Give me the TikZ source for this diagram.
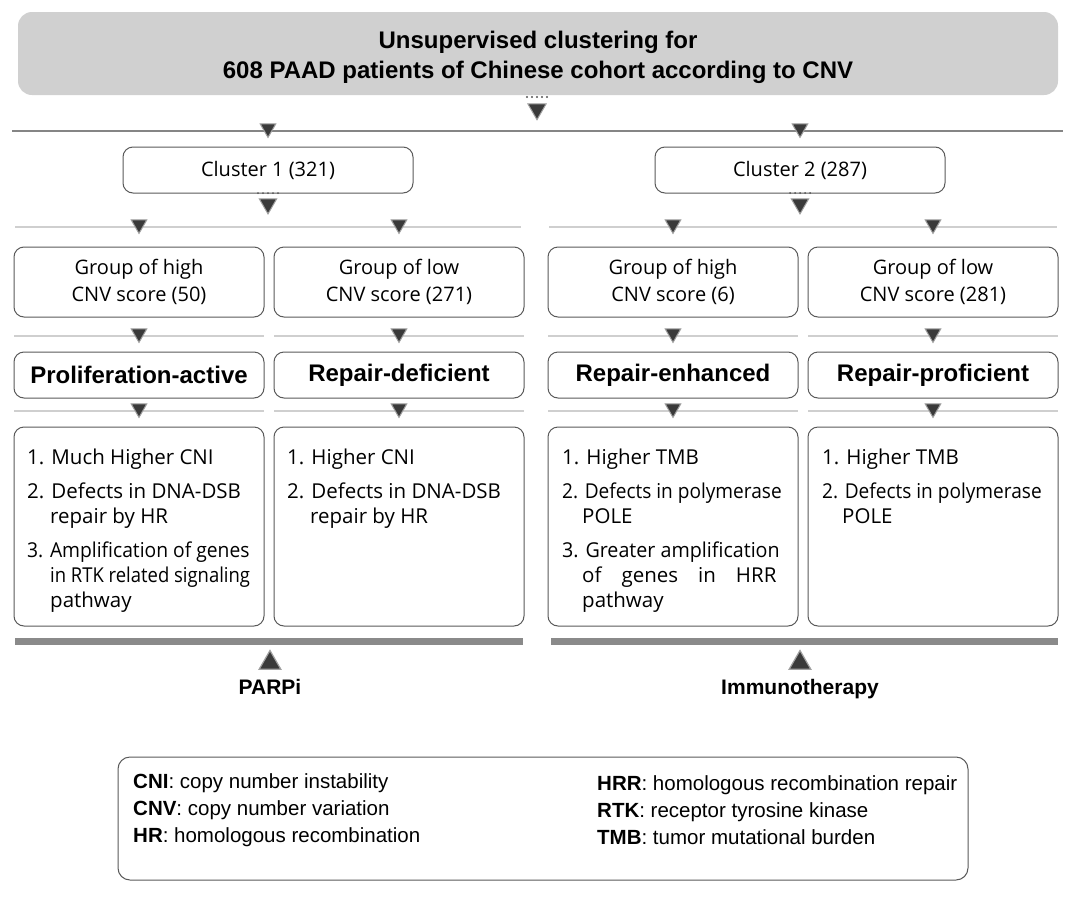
\documentclass[tikz,border=0pt]{standalone}
\usepackage{fontspec}
\usepackage{graphicx}
\setmainfont{Open Sans}
\newfontfamily\arialfam{Liberation Sans}
\usetikzlibrary{shapes.geometric}
\newlength\gwid
\definecolor{titlegray}{HTML}{D0D0D0}
\definecolor{boxline}{HTML}{5A5A5A}
\definecolor{lineone}{HTML}{858585}
\definecolor{linetwo}{HTML}{CFCFCF}
\definecolor{barcol}{HTML}{8A8A8A}
\definecolor{trifill}{HTML}{3A3A3A}
\definecolor{triline}{HTML}{A0A0A0}
\definecolor{dotcol}{HTML}{555555}
\begin{document}
\begin{tikzpicture}[x=1pt,y=-1pt,
  rbox/.style={draw=boxline, line width=1pt, rounded corners=10pt, fill=white, inner sep=0pt},
  clbox/.style={rbox, minimum width=290pt, minimum height=46pt, font=\fontsize{20}{26}\selectfont},
  grbox/.style={rbox, minimum width=250pt, minimum height=70pt, align=center, font=\fontsize{20}{27}\selectfont},
  nmbox/.style={rbox, minimum width=250pt, minimum height=46pt, font=\arialfam\bfseries\fontsize{24}{28}\selectfont},
  dtbox/.style={rbox, minimum width=250pt, minimum height=199pt},
  dtext/.style={anchor=north west, inner sep=0pt, align=left, font=\fontsize{20.5}{25}\selectfont},
  dtri/.style={regular polygon, regular polygon sides=3, shape border rotate=180, inner sep=0pt, minimum size=18pt, fill=trifill, draw=triline, line width=1pt},
  utri/.style={regular polygon, regular polygon sides=3, inner sep=0pt, minimum size=25pt, fill=trifill, draw=triline, line width=1.2pt},
  lone/.style={draw=lineone, line width=1.8pt},
  ltwo/.style={draw=linetwo, line width=1.8pt},
  labtxt/.style={anchor=base, font=\arialfam\bfseries\fontsize{21}{24}\selectfont},
  legtxt/.style={anchor=west, inner sep=0pt, align=left, font=\arialfam\fontsize{20.5}{27}\selectfont}
]
\useasboundingbox (0,0) rectangle (1080,911);
\fill[white] (0,0) rectangle (1080,911);

% title
\node[rbox, draw=none, fill=titlegray, rounded corners=14pt, minimum width=1040pt, minimum height=83pt] (title) at (538,53.5) {};
\node[align=center, inner sep=0pt, font=\arialfam\bfseries\fontsize{24}{30}\selectfont] (titletext) at (538,57.5)
  {Unsupervised clustering for\\608 PAAD patients of Chinese cohort according to CNV};

% level 1 line
\coordinate (l1a) at (12,131); \coordinate (l1b) at (1063,131);
\draw[lone] (l1a) -- (l1b);

% clusters
\node[clbox] (c1) at (268,170) {Cluster 1 (321)};
\node[clbox] (c2) at (800,170) {Cluster 2 (287)};

% level 2 lines
\coordinate (l2a) at (15,227); \coordinate (l2b) at (521,227);
\coordinate (l2c) at (549,227); \coordinate (l2d) at (1057,227);
\draw[ltwo] (l2a) -- (l2b);
\draw[ltwo] (l2c) -- (l2d);

% groups
\node[grbox] (g1) at (139,282) {Group of high\\CNV score (50)};
\node[grbox] (g2) at (399,282) {Group of low\\CNV score (271)};
\node[grbox] (g3) at (673,282) {Group of high\\CNV score (6)};
\node[grbox] (g4) at (933,282) {Group of low\\CNV score (281)};

% level 3 and 4 lines
\foreach \cx/\nm in {139/a,399/b,673/c,933/d}{
  \coordinate (l3\nm1) at (\cx-125,336); \coordinate (l3\nm2) at (\cx+125,336);
  \draw[ltwo] (l3\nm1) -- (l3\nm2);
  \coordinate (l4\nm1) at (\cx-125,411); \coordinate (l4\nm2) at (\cx+125,411);
  \draw[ltwo] (l4\nm1) -- (l4\nm2);
}

% names
\node[nmbox] (n1) at (139,375) {Proliferation-active};
\node[nmbox] (n2) at (399,375) {Repair-deficient};
\node[nmbox] (n3) at (673,375) {Repair-enhanced};
\node[nmbox] (n4) at (933,375) {Repair-proficient};

% details
\node[dtbox] (d1) at (139,526.5) {};
\node[dtbox] (d2) at (399,526.5) {};
\node[dtbox] (d3) at (673,526.5) {};
\node[dtbox] (d4) at (933,526.5) {};

\node[dtext] (d1t) at (27,449) {1. Much Higher CNI\\[9pt]
  2. Defects in DNA-DSB\\
  \hspace*{23pt}repair by HR\\[9pt]
  \scalebox{0.94}[1]{3. Amplification of genes}\\
  \hspace*{23pt}\scalebox{0.9}[1]{in RTK related signaling}\\
  \hspace*{23pt}pathway};
\node[dtext] (d2t) at (287,449) {1. Higher CNI\\[9pt]
  2. Defects in DNA-DSB\\
  \hspace*{23pt}repair by HR};
\node[dtext] (d3t) at (562,449) {1. Higher TMB\\[9pt]
  \scalebox{0.93}[1]{2. Defects in polymerase}\\
  \hspace*{20pt}POLE\\[9pt]
  \scalebox{0.96}[1]{3. Greater amplification}\\
  \hspace*{20pt}\settowidth{\gwid}{Greater amplification}\makebox[0.96\gwid][s]{of genes in HRR}\\
  \hspace*{20pt}pathway};
\node[dtext] (d4t) at (822,449) {1. Higher TMB\\[9pt]
  \scalebox{0.93}[1]{2. Defects in polymerase}\\
  \hspace*{20pt}POLE};

% bars
\fill[barcol] (15,638) rectangle (523,645);
\fill[barcol] (551,638) rectangle (1058,645);

% dots
\foreach \i in {0,...,4}{
  \fill[dotcol] (527+\i*5,97) circle (1.1pt);
  \fill[dotcol] (258+\i*5,193) circle (1pt);
  \fill[dotcol] (790+\i*5,193) circle (1pt);
}

% triangles
\node[dtri, minimum size=21pt] (tc) at (537,109.2) {};
\node[dtri] (t11) at (268,128.4) {};
\node[dtri] (t12) at (800,128.4) {};
\node[dtri, minimum size=20pt] (tc1) at (268,203.9) {};
\node[dtri, minimum size=20pt] (tc2) at (800,203.9) {};
\foreach \cx/\nm in {139/a,399/b,673/c,933/d}{
  \node[dtri] (t2\nm) at (\cx,224.4) {};
  \node[dtri] (t3\nm) at (\cx,333.4) {};
  \node[dtri] (t4\nm) at (\cx,408.4) {};
}
\node[utri] (u1) at (270,663) {};
\node[utri] (u2) at (800,663) {};

% therapy labels
\node[labtxt] (parpi) at (270,694) {PARPi};
\node[labtxt] (immu) at (800,694) {Immunotherapy};

% legend
\node[rbox, minimum width=850pt, minimum height=123pt, rounded corners=12pt] (legend) at (543,818.5) {};
\node[legtxt] (legl) at (133,810) {\textbf{CNI}: copy number instability\\\textbf{CNV}: copy number variation\\\textbf{HR}: homologous recombination};
\node[legtxt] (legr) at (597,810) {\textbf{HRR}: homologous recombination repair\\\textbf{RTK}: receptor tyrosine kinase\\\textbf{TMB}: tumor mutational burden};
\end{tikzpicture}
\end{document}
